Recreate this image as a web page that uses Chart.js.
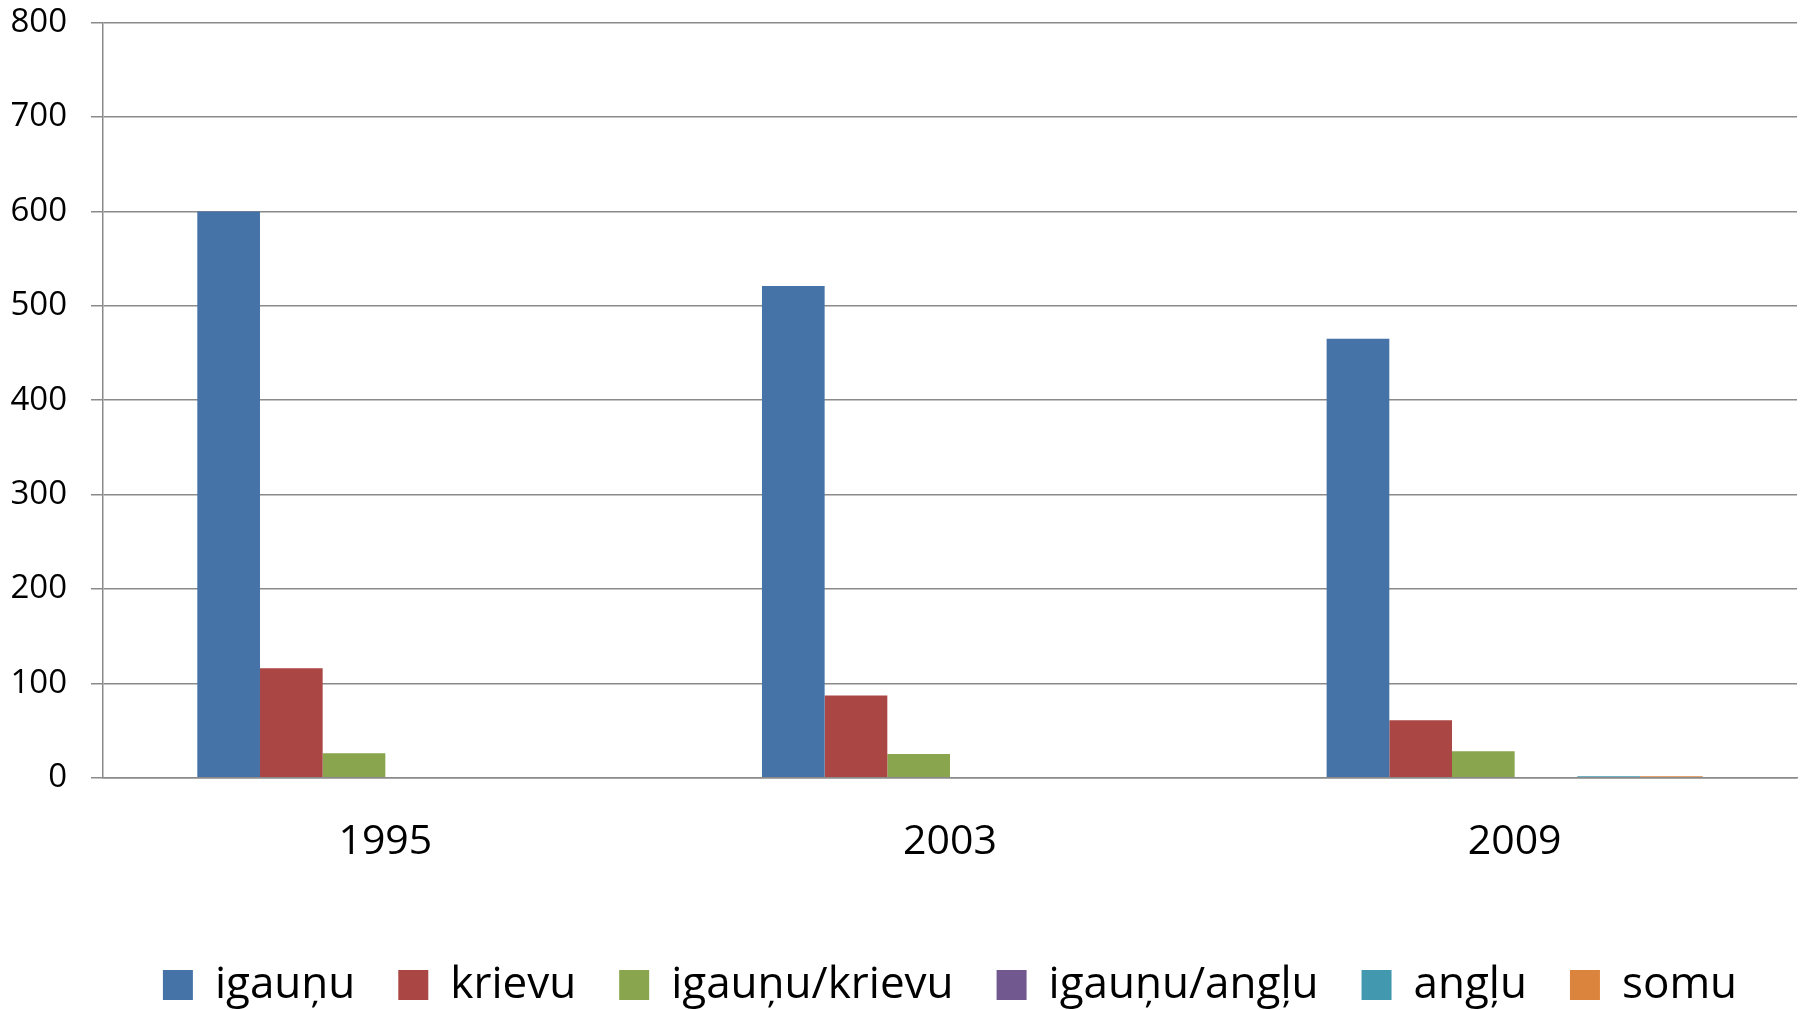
<!DOCTYPE html>
<html>
<head>
<meta charset="utf-8">
<script src="https://cdn.jsdelivr.net/npm/chart.js@4"></script>
<style>
  html, body { margin: 0; padding: 0; background: #fff; overflow: hidden; }
  #wrap { position: absolute; left: 0; top: 0; width: 1806px; height: 1017px; }
</style>
</head>
<body>
<div id="wrap"><canvas id="c"></canvas></div>
<script>
const categories = ['1995', '2003', '2009'];
const seriesNames = ['igauņu', 'krievu', 'igauņu/krievu', 'igauņu/angļu', 'angļu', 'somu'];
const igaunu = [600, 521, 465];
const krievu = [116, 87, 61];
const igaunuKrievu = [26, 25, 28];
const igaunuAnglu = [0, 0, 0];
const anglu = [0, 0, 1.5];
const somu = [0, 0, 1.5];
const yTicks = [0, 100, 200, 300, 400, 500, 600, 700, 800];

const seriesValues = [igaunu, krievu, igaunuKrievu, igaunuAnglu, anglu, somu];
const colors = ['#4572A7', '#AA4643', '#89A54E', '#71588F', '#4198AF', '#DB843D'];

Chart.defaults.font.family = "'Open Sans', sans-serif";
Chart.defaults.color = '#000';

new Chart(document.getElementById('c'), {
  type: 'bar',
  data: {
    labels: categories,
    datasets: seriesNames.map((n, i) => ({
      label: n,
      data: seriesValues[i],
      backgroundColor: colors[i],
      borderWidth: 0,
      categoryPercentage: 0.666,
      barPercentage: 1.0
    }))
  },
  options: {
    responsive: true,
    maintainAspectRatio: false,
    animation: false,
    layout: { padding: { left: 10, right: 9, top: 22.7, bottom: 0 } },
    plugins: {
      tooltip: { enabled: false },
      legend: {
        position: 'bottom',
        fullSize: false,
        labels: {
          font: { size: 44 },
          boxWidth: 30,
          boxHeight: 30,
          padding: 43,
          color: '#000'
        }
      }
    },
    scales: {
      x: {
        grid: { display: false, drawTicks: false },
        border: { display: true, color: '#8a8a8a', width: 1.5 },
        ticks: { font: { size: 41 }, padding: 40, color: '#000' },
        afterFit: s => { s.height = 142.3; }
      },
      y: {
        min: 0,
        max: 800,
        afterBuildTicks: s => { s.ticks = yTicks.map(v => ({ value: v })); },
        grid: { color: '#8a8a8a', lineWidth: 1.5, tickLength: 12, tickColor: '#8a8a8a' },
        border: { display: true, color: '#8a8a8a', width: 1.5 },
        ticks: { font: { size: 33 }, padding: 24, color: '#000' },
        afterFit: s => { s.width = 93; s.paddingTop = 10; s.paddingBottom = 10; }
      }
    }
  }
});
</script>
</body>
</html>
